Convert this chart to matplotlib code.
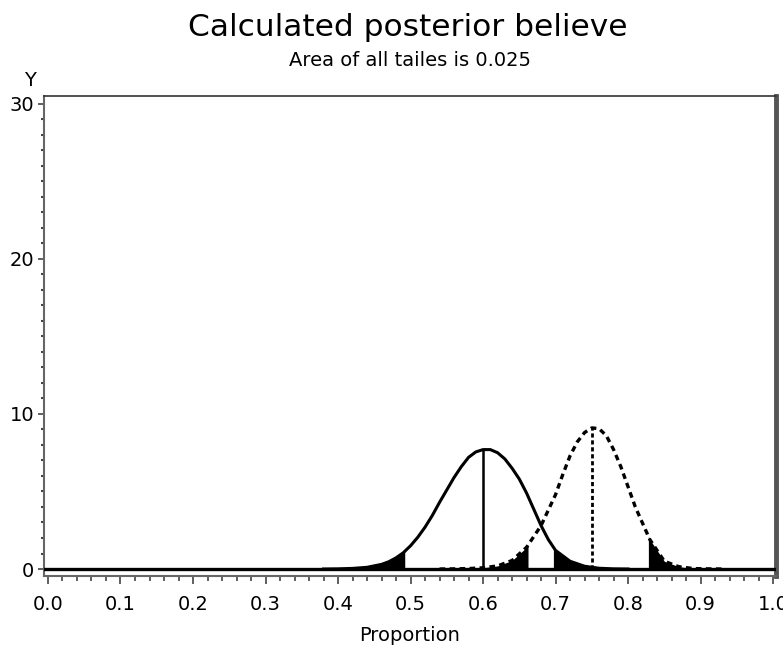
import numpy as np
import matplotlib
matplotlib.use('Agg')
import matplotlib.pyplot as plt
from matplotlib.ticker import MultipleLocator

plt.rcParams['font.family'] = ['DejaVu Sans']

# solid curve
x_solid = [0.38, 0.40, 0.42, 0.44, 0.46, 0.47, 0.48, 0.49, 0.50, 0.51, 0.52, 0.53,
           0.54, 0.55, 0.56, 0.57, 0.58, 0.59, 0.60, 0.61, 0.62, 0.63, 0.64, 0.65,
           0.66, 0.67, 0.68, 0.69, 0.70, 0.72, 0.74, 0.76, 0.78, 0.80]
y_solid = [0.0, 0.01, 0.04, 0.11, 0.30, 0.47, 0.72, 1.05, 1.5, 2.05, 2.7, 3.45,
           4.3, 5.1, 5.9, 6.6, 7.2, 7.55, 7.7, 7.7, 7.5, 7.1, 6.5, 5.8,
           4.9, 3.85, 2.8, 1.9, 1.2, 0.5, 0.18, 0.05, 0.01, 0.0]
mean_solid = 0.6
tails_solid = [0.492, 0.697]

# dashed curve
x_dash = [0.54, 0.56, 0.58, 0.60, 0.62, 0.64, 0.66, 0.68, 0.70, 0.71, 0.72, 0.73,
          0.74, 0.75, 0.76, 0.77, 0.78, 0.79, 0.80, 0.81, 0.83, 0.85, 0.87, 0.89,
          0.91, 0.93]
y_dash = [0.0, 0.01, 0.03, 0.08, 0.2, 0.55, 1.4, 2.8, 4.8, 6.1, 7.3, 8.2,
          8.8, 9.1, 9.05, 8.6, 7.7, 6.6, 5.3, 4.0, 1.9, 0.5, 0.15, 0.03,
          0.01, 0.0]
mean_dash = 0.75
tails_dash = [0.662, 0.828]

x_ticks = [0.0, 0.1, 0.2, 0.3, 0.4, 0.5, 0.6, 0.7, 0.8, 0.9, 1.0]
y_ticks = [0, 10, 20, 30]

fig = plt.figure(figsize=(7.83, 6.54), dpi=100)
ax = fig.add_axes([44/783, 1-576/654, 732/783, 480/654])


def fill_tails(x, y, cuts):
    x = np.array(x)
    y = np.array(y)
    lo = np.concatenate([x[x < cuts[0]], [cuts[0]]])
    hi = np.concatenate([[cuts[1]], x[x > cuts[1]]])
    ax.fill_between(lo, np.interp(lo, x, y), 0, color='black', lw=0)
    ax.fill_between(hi, np.interp(hi, x, y), 0, color='black', lw=0)


fill_tails(x_solid, y_solid, tails_solid)
fill_tails(x_dash, y_dash, tails_dash)

ax.axhline(0, color='black', lw=2.4, zorder=3)
ax.plot(x_solid, y_solid, color='black', lw=2.2, solid_joinstyle='round')
ax.plot(x_dash, y_dash, color='black', lw=2.4, linestyle=(0, (1.7, 1.3)))
ax.plot([mean_solid, mean_solid], [0, np.interp(mean_solid, x_solid, y_solid)],
        color='black', lw=1.8)
ax.plot([mean_dash, mean_dash], [0, np.interp(mean_dash, x_dash, y_dash)],
        color='black', lw=2.0, linestyle=(0, (1.5, 1.0)))

ax.set_xlim(-0.0055, 1.004)
ax.set_ylim(-0.45, 30.5)
ax.set_xticks(x_ticks)
ax.set_xticklabels(['%.1f' % t for t in x_ticks])
ax.set_yticks(y_ticks)
ax.xaxis.set_minor_locator(MultipleLocator(0.02))
ax.yaxis.set_minor_locator(MultipleLocator(1))
ax.tick_params(axis='x', which='major', direction='out', length=6, width=1.2,
               color='#444444', labelsize=14, pad=8)
ax.tick_params(axis='y', which='major', direction='out', length=4, width=1.2,
               color='#444444', labelsize=14, pad=3)
ax.tick_params(axis='x', which='minor', direction='out', length=3.5, width=1.2,
               color='#444444')
ax.tick_params(axis='y', which='minor', direction='out', length=2, width=1.5,
               color='#444444')

ax.spines['left'].set_color('#666666')
ax.spines['left'].set_linewidth(1.5)
ax.spines['bottom'].set_color('#666666')
ax.spines['bottom'].set_linewidth(1.5)
ax.spines['top'].set_color('#333333')
ax.spines['top'].set_linewidth(1.2)
ax.spines['right'].set_color('#555555')
ax.spines['right'].set_linewidth(3.5)

fig.text(408/783, 1-36/654, 'Calculated posterior believe', ha='center', va='baseline',
         fontsize=22.5)
fig.text(410/783, 1-66/654, 'Area of all tailes is 0.025', ha='center', va='baseline',
         fontsize=14)
fig.text(410/783, 1-641/654, 'Proportion', ha='center', va='baseline', fontsize=14)
fig.text(30/783, 1-86/654, 'Y', ha='center', va='baseline', fontsize=14)

plt.savefig('out.png', dpi=100)
